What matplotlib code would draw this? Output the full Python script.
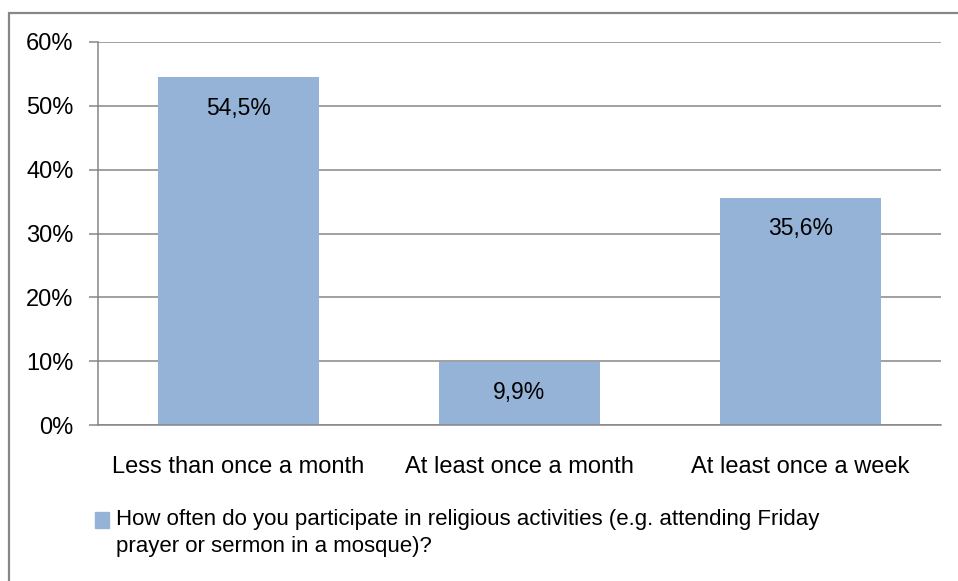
import matplotlib.pyplot as plt
from matplotlib.patches import Rectangle
from matplotlib.ticker import FuncFormatter

categories = ["Less than once a month", "At least once a month", "At least once a week"]
values = [54.5, 9.9, 35.6]
series_name = ("How often do you participate in religious activities (e.g. attending Friday\n"
               "prayer or sermon in a mosque)?")
yticks = [0, 10, 20, 30, 40, 50, 60]

bar_color = "#95B3D7"
grid_color = "#868686"
plt.rcParams['font.family'] = ['Liberation Sans', 'DejaVu Sans']

fig = plt.figure(figsize=(9.58, 5.81), dpi=100)
ax = fig.add_axes([98/958, 1 - 425/581, (941 - 98)/958, (425 - 42)/581])

x = range(len(categories))
bars = ax.bar(x, values, width=0.57, color=bar_color, zorder=2)

for xi, v in zip(x, values):
    ax.annotate(f"{v:.1f}%".replace(".", ","), (xi, v), xytext=(0, -31),
                textcoords="offset pixels", ha="center", va="center", fontsize=16.5)

ax.set_xlim(-0.5, len(categories) - 0.5)
ax.set_ylim(0, 60)
ax.set_yticks(yticks)
ax.yaxis.set_major_formatter(FuncFormatter(lambda v, p: f"{v:.0f}%"))
ax.set_xticks(list(x))
ax.set_xticklabels(categories)
ax.grid(axis="y", color=grid_color, linewidth=1.1, zorder=0)
ax.set_axisbelow(True)

for s in ["top", "right"]:
    ax.spines[s].set_visible(False)
for s in ["left", "bottom"]:
    ax.spines[s].set_color(grid_color)
    ax.spines[s].set_linewidth(1.1)

ax.tick_params(axis="y", length=6.5, color=grid_color, width=1.1, pad=11, labelsize=17)
ax.tick_params(axis="x", length=0, pad=22, labelsize=17)

# legend drawn by hand so the marker sits on the first line
fig.add_artist(Rectangle((95/958, 1 - 528/581), 14/958, 16/581,
                         transform=fig.transFigure, color=bar_color))
fig.text(116/958, 1 - 509/581, series_name, fontsize=16, va="top",
         ha="left", linespacing=1.4)

# outer chart border
fig.add_artist(Rectangle((9/958, -0.05), 1.1, 1 - 13/581 + 0.05,
                         transform=fig.transFigure, fill=False,
                         edgecolor="#878787", linewidth=1.6, clip_on=False))

fig.savefig("out.png", dpi=100)
